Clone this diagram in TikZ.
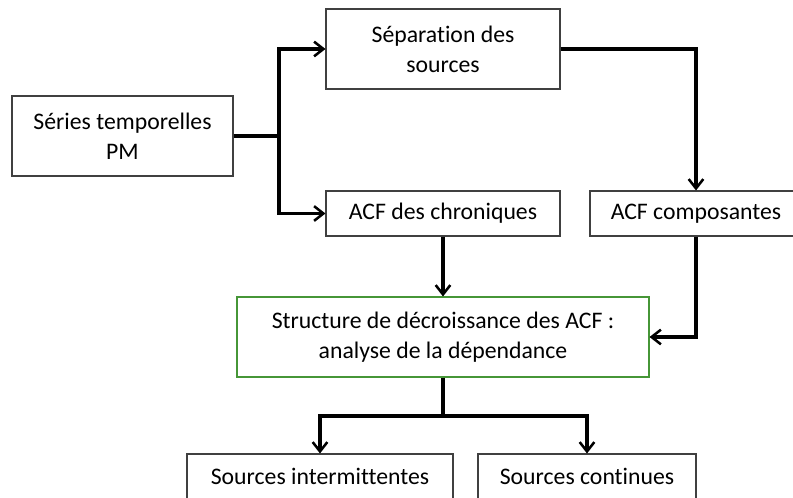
\documentclass[tikz,border=0pt]{standalone}
\usepackage{fontspec}
\setmainfont{Carlito}[RawFeature=-liga]
\usepackage{tikz}
\usetikzlibrary{
  arrows.meta,
  positioning,
  calc
}
\definecolor{boxgreen}{RGB}{70,150,55}

\begin{document}
\begin{tikzpicture}[
    x=0.75pt, y=-0.75pt,
    bx/.style={draw=black!75, line width=0.8pt, align=center, inner sep=0pt,
      font=\fontsize{17.8}{22.5}\selectfont},
    gbx/.style={bx, draw=boxgreen},
    ar/.style={-{Straight Barb[length=7pt,width=11pt,line width=1.9pt]}, line width=2.4pt},
    ln/.style={-, line width=2.4pt}
  ]
    \useasboundingbox (0,0) rectangle (793,498);
    \node[bx, minimum width=165.75pt, minimum height=60pt] (serie) at (122.5,136)
      {Séries temporelles\\PM};
    \node[bx, minimum width=175.5pt, minimum height=60pt] (sep) at (443,49)
      {Séparation des\\sources};
    \node[bx, minimum width=175.5pt, minimum height=33.75pt] (acfc) at (443,213.5)
      {ACF des chroniques};
    \node[bx, minimum width=159pt, minimum height=33.75pt] (acfk) at (696,213.5)
      {ACF composantes};
    \node[gbx, minimum width=309pt, minimum height=60pt] (struct) at (443,337)
      {Structure de décroissance des ACF :\\analyse de la dépendance};
    \node[bx, minimum width=199.5pt, minimum height=33.75pt] (inter) at (320,476.5)
      {Sources intermittentes};
    \node[bx, minimum width=163.5pt, minimum height=33.75pt] (cont) at (587,476.5)
      {Sources continues};
    \coordinate (jn) at (279,136);
    \coordinate (sp) at (443,416);
    \draw[ln] (serie.east) -- (jn);
    \draw[ar] (jn) |- (sep.west);
    \draw[ar] (jn) |- (acfc.west);
    \draw[ar] (sep.east) -| (acfk.north);
    \draw[ar] (acfc.south) -- (struct.north);
    \draw[ar] (acfk.south) |- (struct.east);
    \draw[ln] (struct.south) -- (sp);
    \draw[ar] (sp) -| (inter.north);
    \draw[ar] (sp) -| (cont.north);
  \end{tikzpicture}
\end{document}
